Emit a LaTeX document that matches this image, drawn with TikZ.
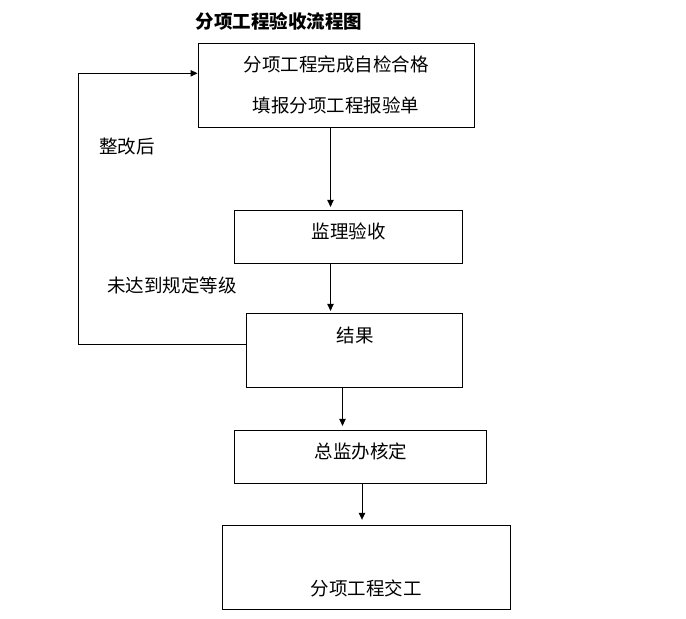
\documentclass[tikz,border=0pt]{standalone}
\usepackage{fontspec}
\setmainfont{Noto Sans CJK SC}
\usetikzlibrary{arrows.meta,calc}
\tikzset{
  box/.style={draw, line width=1pt, inner sep=0pt},
  lbl/.style={inner sep=0pt, font=\fontsize{18.5pt}{20pt}\selectfont},
  ttl/.style={inner sep=0pt, font=\fontsize{18.5pt}{20pt}\selectfont\bfseries},
  arr/.style={line width=1pt, -{Triangle[length=7pt,width=6.5pt]}},
  ln/.style={line width=1pt}
}
\begin{document}
\begin{tikzpicture}[x=1pt,y=-1pt]
\useasboundingbox (0,0) rectangle (686,619);
% boxes
\node[box, minimum width=276pt, minimum height=84pt] (b1) at (336,85.3) {};
\node[box, minimum width=228pt, minimum height=52.7pt] (b2) at (348.3,236.7) {};
\node[box, minimum width=216pt, minimum height=73.7pt] (b3) at (354.3,350.2) {};
\node[box, minimum width=252pt, minimum height=52.7pt] (b4) at (360.3,456.7) {};
\node[box, minimum width=288pt, minimum height=84pt] (b5) at (366.3,567.3) {};
% texts
\node[ttl] (title) at (279,21.5) {分项工程验收流程图};
\node[lbl] (t1a) at (336,64) {分项工程完成自检合格};
\node[lbl] (t1b) at (336,105) {填报分项工程报验单};
\node[lbl] (t2) at (348.5,231.5) {监理验收};
\node[lbl] (t3) at (355,335) {结果};
\node[lbl] (t4) at (361,451) {总监办核定};
\node[lbl] (t5) at (366,588) {分项工程交工};
\node[lbl] (l1) at (127,147) {整改后};
\node[lbl] (l2) at (172,285) {未达到规定等级};
% arrow columns
\coordinate (c1) at (330.5,0);
\coordinate (c3) at (342.5,0);
\coordinate (c4) at (362,0);
\draw[arr, shorten >=3pt] (b1.south -| c1) -- (b2.north -| c1);
\draw[arr, shorten >=2pt] (b2.south -| c1) -- (b3.north -| c1);
\draw[arr, shorten >=4pt] (b3.south -| c3) -- (b4.north -| c3);
\draw[arr, shorten >=5pt] (b4.south -| c4) -- (b5.north -| c4);
% feedback loop
\coordinate (fbA) at (78.5,344.3);
\coordinate (fbB) at (78.5,73.3);
\draw[arr] (b3.west |- fbA) -- (fbA) -- (fbB) -- (b1.west |- fbB);
\end{tikzpicture}
\end{document}
